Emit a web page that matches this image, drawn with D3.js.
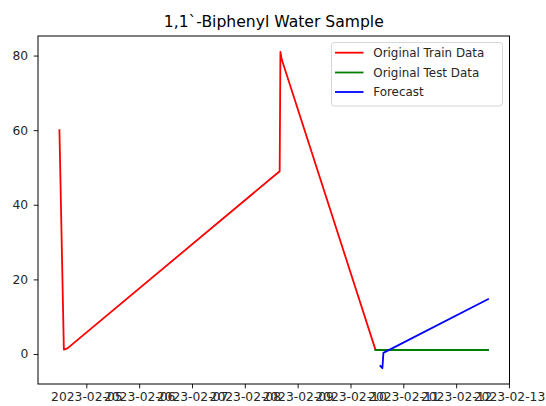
<!DOCTYPE html>
<html>
<head>
<meta charset="utf-8">
<script src="https://cdn.jsdelivr.net/npm/d3@7"></script>
<style>
  html, body { margin: 0; padding: 0; background: #fff; }
  svg { display: block; font-family: "DejaVu Sans", sans-serif; }
</style>
</head>
<body>
<svg id="chart" width="546" height="406"></svg>
<script>
// ---- Data ----
const chartTitle = "1,1`-Biphenyl Water Sample";

const trainDates = ["2023-02-04T11:47", "2023-02-04T13:48", "2023-02-04T15:24", "2023-02-08T15:50",
                    "2023-02-08T16:10", "2023-02-08T16:45", "2023-02-10T11:19"];
const trainValues = [60, 1.2, 1.5, 49, 81, 79, 1.2];

const testDates = ["2023-02-10T11:19", "2023-02-12T14:30"];
const testValues = [1.07, 1.07];

const forecastDates = ["2023-02-10T13:35", "2023-02-10T14:30", "2023-02-10T14:57", "2023-02-12T14:30"];
const forecastValues = [-3.2, -3.8, 0.3, 14.7];

const xTickLabels = ["2023-02-05", "2023-02-06", "2023-02-07", "2023-02-08", "2023-02-09",
                     "2023-02-10", "2023-02-11", "2023-02-12", "2023-02-13"];
const yTickValues = [0, 20, 40, 60, 80];

const seriesNames = ["Original Train Data", "Original Test Data", "Forecast"];
const seriesColors = ["#ff0000", "#008000", "#0000ff"];

// ---- Build ----
const parse = d3.utcParse("%Y-%m-%dT%H:%M");
const parseDay = d3.utcParse("%Y-%m-%d");
const fmt = d3.utcFormat("%Y-%m-%d");

const series = [
  trainDates.map((d, i) => ({ x: parse(d), y: trainValues[i] })),
  testDates.map((d, i) => ({ x: parse(d), y: testValues[i] })),
  forecastDates.map((d, i) => ({ x: parse(d), y: forecastValues[i] }))
];

const margin = { left: 38, right: 546 - 509.5, top: 36, bottom: 406 - 384 };
const W = 546, H = 406;
const svg = d3.select("#chart");

const all = series.flat();
const xExt = d3.extent(all, d => +d.x);
const yExt = d3.extent(all, d => d.y);
const xPad = (xExt[1] - xExt[0]) * 0.05;
const yPad = (yExt[1] - yExt[0]) * 0.05;

const x = d3.scaleUtc()
  .domain([new Date(xExt[0] - xPad), new Date(xExt[1] + xPad)])
  .range([margin.left, W - margin.right]);
const y = d3.scaleLinear()
  .domain([yExt[0] - yPad, yExt[1] + yPad])
  .range([H - margin.bottom, margin.top]);

const line = d3.line().x(d => x(d.x)).y(d => y(d.y));

// lines (clipped to axes)
svg.append("clipPath").attr("id", "clip").append("rect")
  .attr("x", margin.left).attr("y", margin.top)
  .attr("width", W - margin.left - margin.right)
  .attr("height", H - margin.top - margin.bottom);

const g = svg.append("g").attr("clip-path", "url(#clip)");
series.forEach((s, i) => {
  g.append("path").datum(s)
    .attr("d", line)
    .attr("fill", "none")
    .attr("stroke", seriesColors[i])
    .attr("stroke-width", 1.8)
    .attr("stroke-linejoin", "round")
    .attr("stroke-linecap", "square");
});

// axes
const tickFont = 12.3;
const xAxis = d3.axisBottom(x)
  .tickValues(xTickLabels.map(parseDay))
  .tickFormat(fmt)
  .tickSize(4.3).tickPadding(4.3);
const gx = svg.append("g").attr("transform", `translate(0,${H - margin.bottom})`).call(xAxis);
gx.select(".domain").remove();
gx.selectAll("line").attr("stroke", "#000").attr("stroke-width", 0.9);
gx.selectAll("text").attr("font-size", tickFont).attr("fill", "#262626")
  .attr("font-family", "DejaVu Sans");

const yAxis = d3.axisLeft(y)
  .tickValues(yTickValues)
  .tickFormat(d3.format("d"))
  .tickSize(4.3).tickPadding(5.5);
const gy = svg.append("g").attr("transform", `translate(${margin.left},0)`).call(yAxis);
gy.select(".domain").remove();
gy.selectAll("line").attr("stroke", "#000").attr("stroke-width", 0.9);
gy.selectAll("text").attr("font-size", tickFont).attr("fill", "#262626")
  .attr("font-family", "DejaVu Sans");

// spines
svg.append("rect")
  .attr("x", margin.left).attr("y", margin.top)
  .attr("width", W - margin.left - margin.right)
  .attr("height", H - margin.top - margin.bottom)
  .attr("fill", "none").attr("stroke", "#000").attr("stroke-width", 1);

// title
svg.append("text")
  .attr("x", (margin.left + W - margin.right) / 2)
  .attr("y", 27)
  .attr("text-anchor", "middle")
  .attr("font-size", 15.6)
  .attr("fill", "#000")
  .text(chartTitle);

// legend
const lg = svg.append("g");
lg.append("rect")
  .attr("x", 331.5).attr("y", 42.5)
  .attr("width", 171).attr("height", 63.5)
  .attr("rx", 3).attr("ry", 3)
  .attr("fill", "#fff").attr("fill-opacity", 0.8)
  .attr("stroke", "#d6d6d6").attr("stroke-width", 1);
const legendY = [52.7, 72.5, 92];
seriesNames.forEach((name, i) => {
  lg.append("line")
    .attr("x1", 335).attr("x2", 363.5)
    .attr("y1", legendY[i]).attr("y2", legendY[i])
    .attr("stroke", seriesColors[i]).attr("stroke-width", 1.8);
  lg.append("text")
    .attr("x", 373.3).attr("y", legendY[i])
    .attr("dy", "0.36em")
    .attr("font-size", 11.9)
    .attr("fill", "#262626")
    .text(name);
});
</script>
</body>
</html>
